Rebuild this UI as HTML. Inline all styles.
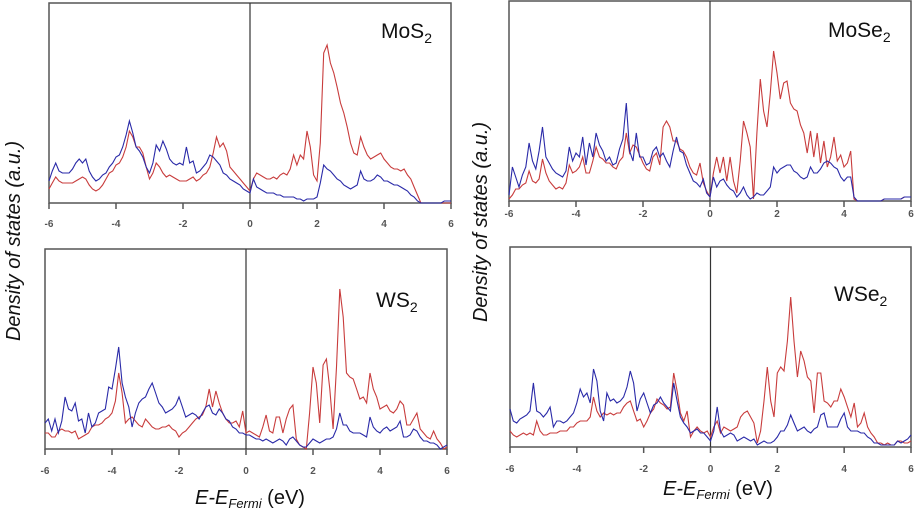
<!DOCTYPE html>
<html><head><meta charset="utf-8"><style>
html,body{margin:0;padding:0;background:#fff;}
svg{display:block;font-family:"Liberation Sans",sans-serif;}
</style></head><body>
<svg id="chart" width="915" height="509" viewBox="0 0 915 509" xmlns="http://www.w3.org/2000/svg">
<text transform="translate(20,241) rotate(-90)" text-anchor="middle" font-size="20" font-style="italic" fill="#111">Density of states (a.u.)</text>
<text transform="translate(487,222) rotate(-90)" text-anchor="middle" font-size="20" font-style="italic" fill="#111">Density of states (a.u.)</text>
<text x="250" y="504" text-anchor="middle" font-size="20" fill="#111"><tspan font-style="italic">E-E</tspan><tspan font-style="italic" font-size="13" dy="4">Fermi</tspan><tspan dy="-4"> (eV)</tspan></text>
<text x="718" y="495" text-anchor="middle" font-size="20" fill="#111"><tspan font-style="italic">E-E</tspan><tspan font-style="italic" font-size="13" dy="4">Fermi</tspan><tspan dy="-4"> (eV)</tspan></text>
</svg>
<script>
const energies = [];
for (let i = 0; i <= 120; i++) energies.push(-6 + i * 0.1);
const tickLabels = [-6, -4, -2, 0, 2, 4, 6];

const mos2Red = [7,10,13,11,10,10,10,10,11,12, 13,12,9,7,6,7,9,12,15,16, 19,20,23,28,36,33,28,28,25,18, 12,15,20,18,15,13,14,13,12,11, 11,11,12,13,11,12,14,15,18,25, 33,28,30,26,18,16,14,12,10,8, 6,12,15,14,13,12,12,13,12,14, 15,14,17,24,19,24,22,36,28,14, 11,30,75,79,70,65,58,50,45,38, 30,25,24,33,28,24,22,23,24,25, 22,20,18,17,17,16,17,14,12,8, 4,0,0,0,0,0,0,0,0,0, 0];
const mos2Blue = [11,16,20,16,15,15,15,17,20,22, 20,22,16,13,11,12,14,15,18,20, 23,24,28,34,41,35,28,26,23,18, 15,20,29,26,31,27,22,20,19,20, 19,28,20,21,15,16,18,20,24,23, 21,19,15,14,12,11,10,9,7,6, 5,12,8,7,6,5,5,5,4,4, 3,3,3,3,2,2,1,2,2,2, 3,10,19,17,16,14,12,11,9,8, 7,8,9,16,12,11,11,12,14,13, 11,11,10,9,9,8,7,6,4,3, 1,0,0,0,0,0,0,0,1,1, 1];
const mose2Red = [1,3,6,6,8,9,15,10,9,11, 21,14,10,8,6,7,6,9,18,14, 15,17,22,14,14,20,27,22,21,19, 19,17,16,20,22,34,24,28,27,23, 19,16,15,22,24,18,37,40,37,30, 30,26,25,22,17,14,13,19,9,5, 2,14,22,14,22,10,22,10,4,20, 40,34,27,1,34,61,45,37,54,75, 64,51,59,60,49,46,45,38,34,24, 35,22,34,19,30,17,22,32,20,23, 17,19,25,1,0,0,0,0,0,0, 0,0,1,1,1,1,1,1,2,2, 2];
const mose2Blue = [3,17,12,7,13,17,29,20,16,25, 37,22,19,16,14,13,12,15,27,20, 24,22,32,18,29,22,34,28,25,20, 22,18,19,26,31,49,25,20,34,22, 22,18,19,25,27,22,24,20,17,25, 32,25,24,18,14,10,9,7,11,4, 2,12,7,10,11,8,6,5,2,4, 7,3,1,2,4,3,3,5,7,17, 14,16,17,18,18,15,14,12,11,12, 17,14,14,16,19,20,19,17,16,12, 10,12,12,2,0,0,0,0,0,0, 0,0,1,1,1,1,1,1,2,2, 2];
const ws2Red = [8,8,6,6,9,10,9,9,8,9, 5,6,7,8,11,12,12,13,15,16, 18,24,38,28,13,15,16,14,12,11, 15,13,11,10,10,11,11,12,10,9, 6,8,9,11,13,15,16,17,21,30, 21,29,23,18,15,13,13,14,11,19, 8,9,8,7,6,11,17,9,8,16, 16,8,15,20,22,5,2,1,0,18, 41,33,13,42,45,30,10,41,80,66, 38,36,35,30,25,26,23,38,30,26, 20,21,22,19,18,20,24,22,12,12, 15,18,10,8,6,5,9,5,3,0, 1];
const ws2Blue = [13,15,9,15,8,14,26,20,19,23, 14,15,8,18,11,13,18,19,20,31, 30,40,51,33,26,21,11,18,23,25, 26,30,33,28,23,21,18,19,20,22, 26,21,16,17,18,17,15,18,21,22, 18,17,20,18,15,14,11,10,8,8, 7,7,6,5,5,4,5,4,3,4, 5,4,2,5,6,4,2,1,1,3, 5,4,3,4,5,5,6,10,18,12, 12,9,8,8,8,7,6,16,11,9, 8,10,11,9,10,11,14,6,6,7, 10,9,6,4,4,3,3,2,0,1, 2];
const wse2Red = [8,6,5,6,7,6,7,6,13,8, 6,6,7,7,7,8,8,8,10,10, 12,13,13,13,15,25,18,15,17,16, 17,16,17,17,20,22,23,18,13,14, 10,13,17,19,24,22,21,19,20,37, 28,17,13,18,5,8,10,8,7,8, 5,10,13,7,10,9,8,9,10,15, 17,18,15,12,2,8,23,40,23,15, 37,40,38,53,75,53,35,48,43,35, 33,17,37,37,23,22,20,23,23,29, 25,20,15,22,10,12,17,10,7,5, 2,2,1,2,1,1,3,3,2,2, 3];
const wse2Blue = [19,13,12,14,15,16,18,32,18,17, 15,17,20,10,13,13,12,13,15,17, 22,29,25,27,22,39,33,18,13,27, 23,24,22,23,25,30,38,32,18,24, 27,22,17,21,22,25,22,20,18,32, 23,15,12,10,7,8,9,7,7,5, 3,8,20,8,5,6,7,6,3,4, 5,4,3,4,1,2,3,2,2,3, 5,8,8,11,16,12,8,9,10,8, 7,9,10,16,17,10,10,10,10,14, 17,10,8,8,8,7,7,5,4,2, 2,1,1,1,1,1,3,2,3,4, 6];

const NS = "http://www.w3.org/2000/svg";
const svg = document.getElementById('chart');
function mk(tag, attrs, parent) {
  const e = document.createElementNS(NS, tag);
  for (const k in attrs) e.setAttribute(k, attrs[k]);
  (parent || svg).appendChild(e);
  return e;
}
function panel(cfg) {
  const g = mk('g', {});
  
  
  const xs = v => cfg.l + (v + 6) / 12 * (cfg.r - cfg.l);
  const ys = v => cfg.b - v / 100 * (cfg.b - cfg.t);
  const frame = mk('rect', {x: cfg.l, y: cfg.t, width: cfg.r - cfg.l, height: cfg.b - cfg.t, fill: 'none', stroke: '#555', 'stroke-width': 1.5}, g);
  
  
  const zl = mk('line', {x1: xs(0), x2: xs(0), y1: cfg.t, y2: cfg.b, stroke: '#333', 'stroke-width': 1.2}, g);
  
  
  tickLabels.forEach(v => {
    const tk = mk('line', {x1: xs(v), x2: xs(v), y1: cfg.b, y2: cfg.b + 6, stroke: '#555', 'stroke-width': 1.5}, g);
    
    
    const tl = mk('text', {x: xs(v), y: cfg.ty + 4, 'text-anchor': 'middle', 'font-size': 10, 'font-weight': 'bold', fill: '#555'}, g);
    
    
    tl.textContent = v;
  });
  [[cfg.red, '#c83c3c', 'red'], [cfg.blue, '#2a2aa8', 'blue']].forEach(([arr, col, nm]) => {
    const d = arr.map((v, i) => (i ? 'L' : 'M') + xs(energies[i]).toFixed(1) + ',' + ys(v).toFixed(1)).join('');
    const p = mk('path', {d: d, fill: 'none', stroke: col, 'stroke-width': 1.1}, g);
    
    
  });
  const t = mk('text', {x: cfg.lx, y: cfg.ly, 'font-size': 21, fill: '#111'}, g);
  
  
  t.innerHTML = cfg.label + '<tspan font-size="14" dy="5">2</tspan>';
}
panel({name: 'mos2', l: 49, r: 451, t: 3, b: 203, ty: 223, red: mos2Red, blue: mos2Blue, label: 'MoS', lx: 381, ly: 38});
panel({name: 'mose2', l: 509, r: 911, t: 1, b: 201, ty: 213, red: mose2Red, blue: mose2Blue, label: 'MoSe', lx: 828, ly: 37});
panel({name: 'ws2', l: 45, r: 447, t: 249, b: 449, ty: 470, red: ws2Red, blue: ws2Blue, label: 'WS', lx: 376, ly: 307});
panel({name: 'wse2', l: 510, r: 911, t: 247, b: 447, ty: 468, red: wse2Red, blue: wse2Blue, label: 'WSe', lx: 834, ly: 301});
</script>
</body></html>
